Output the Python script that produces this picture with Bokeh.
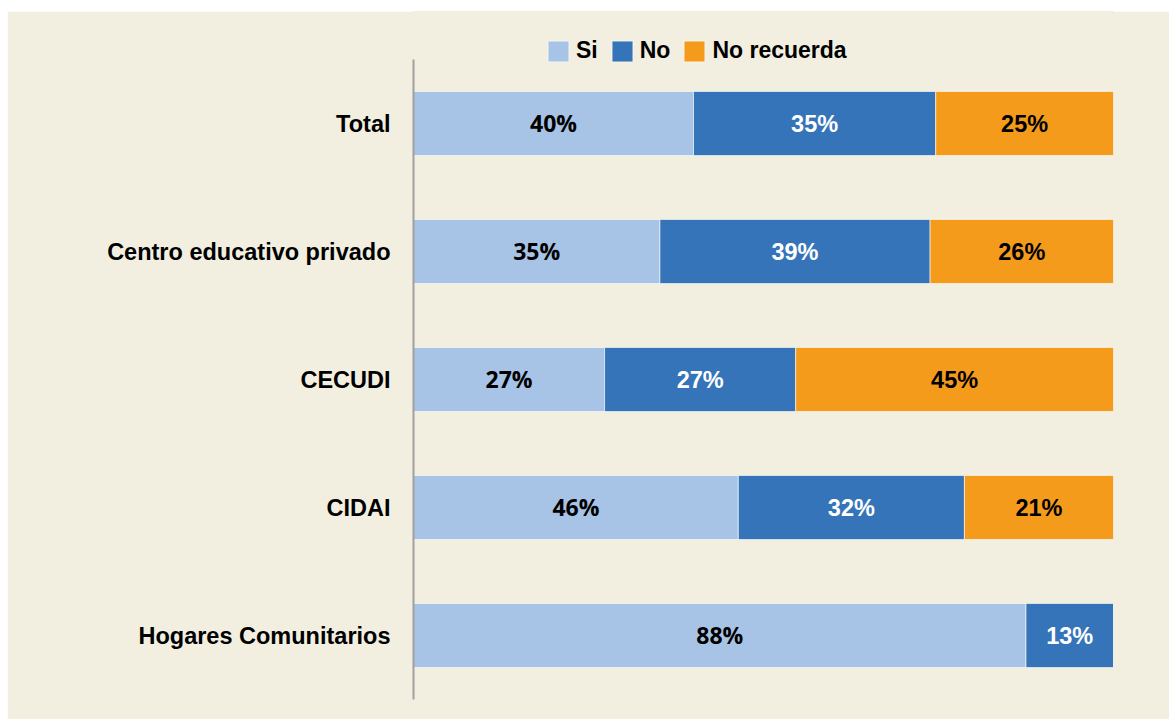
from bokeh.plotting import figure
from bokeh.models import ColumnDataSource, Range1d, Legend, LegendItem, Spacer, FixedTicker
from bokeh.layouts import column, row
from bokeh.core.properties import value
from bokeh.embed import file_html
from bokeh.resources import INLINE

categories = ["Total", "Centro educativo privado", "CECUDI", "CIDAI", "Hogares Comunitarios"]
si = [40.0, 35.2, 27.3, 46.4, 87.5]
no = [34.6, 38.6, 27.3, 32.3, 12.5]
no_recuerda = [25.4, 26.2, 45.4, 21.3, 0.0]
series_names = ["Si", "No", "No recuerda"]
colors = ["#A7C4E7", "#3574B9", "#F59B1C"]
label_colors = ["black", "white", "black"]

BG = "#F2EFE1"

def pct(v):
    return f"{int(v + 0.5)}%"

n = len(categories)
ypos = [n - 1 - i for i in range(n)]  # first category on top

src = ColumnDataSource(dict(y=ypos, si=si, no=no, nr=no_recuerda))

# frame spans 688px; 128px per category, extra room on top for the legend
p = figure(width=1162, height=708, y_range=Range1d(-0.5, -0.5 + 688 / 128),
           x_range=(0, 100), output_backend="svg", toolbar_location=None,
           x_axis_location=None, min_border_left=406, min_border_right=56,
           min_border_top=0, min_border_bottom=20)
p.background_fill_color = BG
p.border_fill_color = BG
p.outline_line_color = BG
p.outline_line_width = 1
p.xgrid.visible = False
p.ygrid.visible = False

renderers = p.hbar_stack(["si", "no", "nr"], y="y", height=0.5, source=src,
                         color=colors, line_color="#FFFFFF", line_alpha=0.6, line_width=1)

stacks = [si, no, no_recuerda]
for i, vals in enumerate(stacks):
    xs, ys, ts = [], [], []
    for j in range(n):
        start = sum(stacks[k][j] for k in range(i))
        v = vals[j]
        if v <= 0:
            continue
        xs.append(start + v / 2)
        ys.append(ypos[j])
        ts.append(pct(v))
    if i == 0:
        p.text(x=xs, y=ys, text=ts, text_align="center", text_baseline="middle",
               text_color=label_colors[i], text_font=value("Open Sans"),
               text_font_style="bold", text_font_size="23px", y_offset=-1)
    else:
        p.text(x=xs, y=ys, text=ts, text_align="center", text_baseline="middle",
               text_color=label_colors[i], text_font=value("Liberation Sans"),
               text_font_style="bold", text_font_size="23.5px")

ax = p.yaxis[0]
ax.ticker = FixedTicker(ticks=ypos)
ax.major_label_overrides = {yp: c for yp, c in zip(ypos, categories)}
ax.bounds = (-0.5, n - 0.5)
ax.major_tick_line_color = None
ax.minor_tick_line_color = None
ax.axis_line_color = "#A0A0A0"
ax.axis_line_width = 2
ax.major_label_text_font = "Liberation Sans"
ax.major_label_text_font_style = "bold"
ax.major_label_text_font_size = "23.5px"
ax.major_label_text_color = "black"
ax.major_label_standoff = 17

legend = Legend(items=[LegendItem(label=s, renderers=[r]) for s, r in zip(series_names, renderers)],
                orientation="horizontal", location=(132, 635))
legend.background_fill_alpha = 0
legend.border_line_color = None
legend.padding = 0
legend.margin = 0
legend.spacing = 11
legend.glyph_width = 26
legend.glyph_height = 26
legend.label_height = 22
legend.label_standoff = 5
legend.label_text_font = "Liberation Sans"
legend.label_text_font_style = "bold"
legend.label_text_font_size = "23px"
legend.label_text_color = "black"
legend.label_text_baseline = "middle"
p.add_layout(legend, "center")

layout = column(Spacer(height=11, width=1169),
                row(Spacer(width=7, height=708), p, spacing=0), spacing=0)

open("out.html", "w").write(file_html(layout, INLINE))
